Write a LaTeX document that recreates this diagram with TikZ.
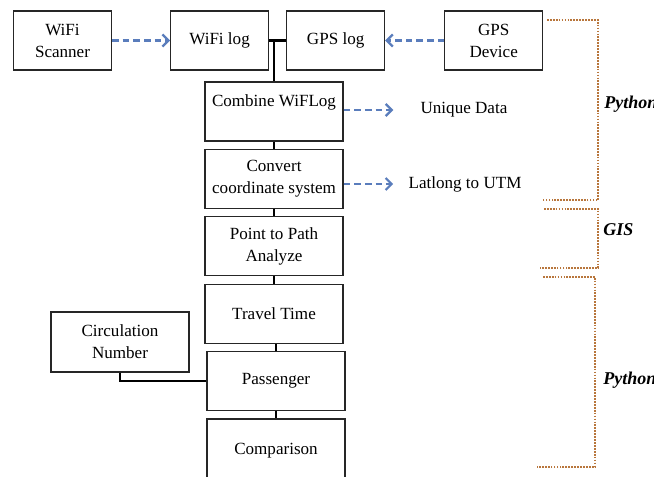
\documentclass[tikz,border=0pt]{standalone}
\usepackage{fontspec}
\setmainfont{Liberation Serif}
\usepackage{tikz}
\usetikzlibrary{positioning,arrows.meta}
\definecolor{FlowBlue}{HTML}{5A7DBC}
\definecolor{ToolBrown}{HTML}{B8763C}

\begin{document}
\begin{tikzpicture}[x=0.75pt,y=-0.75pt,>={Straight Barb[length=4.5pt,width=9pt]},
                    font=\fontsize{12.8}{16.5}\selectfont,
                    box/.style={draw=black!85, line width=0.8pt, align=center, inner sep=1pt,
                                minimum width=73.5pt, minimum height=44.25pt},
                    stepbox/.style={box, minimum width=103.5pt},
                    link/.style={draw=black, line width=1pt},
                    flow/.style={draw=FlowBlue, line width=1.7pt, dash pattern=on 5pt off 3pt, ->},
                    bracket/.style={draw=ToolBrown, line width=2pt, dash pattern=on 1.3pt off 0.9pt},
                    tool/.style={font=\fontsize{13.5}{16}\selectfont\bfseries\itshape,
                                 anchor=west, inner sep=0pt}]
\useasboundingbox (0,0) rectangle (654,477);
% data sources
\node[box] (scanner) at (62.5,40.5) {WiFi\\Scanner};
\node[box, right=43.5pt of scanner] (wifilog) {WiFi log};
\node[box, right=12.75pt of wifilog] (gpslog) {GPS log};
\node[box, right=44.25pt of gpslog] (gpsdev) {GPS\\Device};
% processing column
\node[stepbox, inner ysep=0pt, text height=18.75pt, text depth=25.5pt] (combine) at (274,111.5) {Combine WiFLog};
\node[stepbox, below=5.5pt of combine] (convert) {Convert\\coordinate system};
\node[stepbox, below=5.5pt of convert] (analyze) {Point to Path\\Analyze};
\node[stepbox, below=5.5pt of analyze] (travel) {Travel Time};
\node[stepbox, below=5.5pt of travel, xshift=1.5pt] (passenger) {Passenger};
\node[stepbox, below=5.5pt of passenger, minimum height=47pt] (compare) {Comparison};
\node[stepbox, minimum height=45pt] (circulation) at (120,342) {Circulation\\Number};
% results
\node (unique) at (464,110) {Unique Data};
\node (latlong) at (465,184) {Latlong to UTM};
% tools
\node[tool] (pyprep) at (604,104) {Python};
\node[tool] (gis) at (603,230) {GIS};
\node[tool] (pyanalysis) at (603,380) {Python};
% connectors
\draw[link, line width=1.8pt] (wifilog) -- (gpslog);
\draw[link, line width=1.4pt] (combine.north) -- (combine.north |- wifilog.east);
\draw[link] (combine) -- (convert);
\draw[link] (convert) -- (analyze);
\draw[link] (analyze) -- (travel);
\draw[link] (passenger.north) -- (passenger.north |- travel.south);
\draw[link] (passenger) -- (compare);
\draw[link] (circulation.south) |- (passenger.west);
\draw[flow] (scanner) -- (wifilog);
\draw[flow] (gpsdev) -- (gpslog);
\draw[flow, shorten >=17pt] (combine.east |- unique) -- (unique.west);
\draw[flow, shorten >=8pt] (convert.east |- latlong) -- (latlong.west);
% tool brackets
\draw[bracket] (547,20) -- (598,20) -- (598,200) -- (543,200);
\draw[bracket] (544,209) -- (598,209) -- (598,268) -- (540,268);
\draw[bracket] (543,277) -- (595,277) -- (595,467) -- (537,467);
\end{tikzpicture}
\end{document}
